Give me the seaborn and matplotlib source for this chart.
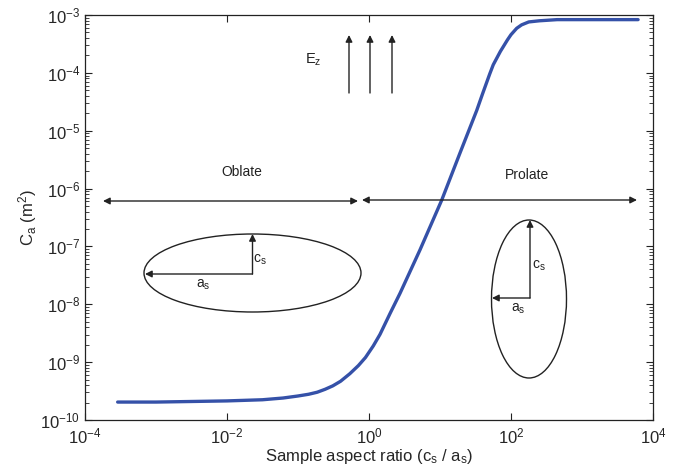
import numpy as np
import pandas as pd
import matplotlib
matplotlib.use("Agg")
import matplotlib.pyplot as plt
from matplotlib.patches import Ellipse
from matplotlib.ticker import FixedLocator, NullLocator
import seaborn as sns

# ---- data (as base-10 exponents) ----
log_aspect = [-3.54, -3.0, -2.5, -2.0, -1.5, -1.21, -1.0, -0.85, -0.73, -0.62,
              -0.51, -0.4, -0.27, -0.15, -0.05, 0.06, 0.155, 0.3, 0.437, 0.718,
              1.024, 1.28, 1.517, 1.6, 1.70, 1.75, 1.85, 1.95, 2.0, 2.08,
              2.15, 2.25, 2.4, 2.65, 3.0, 3.5, 3.79]
log_ca = [-9.69, -9.69, -9.68, -9.67, -9.65, -9.62, -9.585, -9.555, -9.52, -9.47,
          -9.41, -9.33, -9.20, -9.06, -8.92, -8.72, -8.52, -8.15, -7.81, -7.06,
          -6.20, -5.39, -4.65, -4.36, -4.02, -3.86, -3.63, -3.43, -3.34, -3.23,
          -3.17, -3.12, -3.10, -3.08, -3.08, -3.08, -3.08]
x_ticks = [1e-4, 1e-2, 1e0, 1e2, 1e4]
y_ticks = [1e-10, 1e-9, 1e-8, 1e-7, 1e-6, 1e-5, 1e-4, 1e-3]
x_label = r"Sample aspect ratio (c$_\mathrm{s}$ / a$_\mathrm{s}$)"
y_label = r"C$_\mathrm{a}$ (m$^2$)"
region_labels = ["Oblate", "Prolate"]
field_label = r"E$_\mathrm{z}$"

df = pd.DataFrame({"aspect": 10.0 ** np.array(log_aspect),
                   "ca": 10.0 ** np.array(log_ca)})

sns.set_style("ticks")
plt.rcParams["font.family"] = ["Liberation Sans", "DejaVu Sans"]
plt.rcParams["mathtext.fontset"] = "custom"
plt.rcParams["mathtext.rm"] = "Liberation Sans"
plt.rcParams["mathtext.it"] = "Liberation Sans:italic"
plt.rcParams["mathtext.bf"] = "Liberation Sans:bold"

fig = plt.figure(figsize=(6.84, 4.71), dpi=100)
ax = fig.add_axes([85 / 684, 51 / 471, 568 / 684, 405 / 471])

sns.lineplot(data=df, x="aspect", y="ca", ax=ax, color="#3551a8",
             linewidth=2.4, estimator=None, sort=False)

ax.set_xscale("log")
ax.set_yscale("log")
ax.set_xlim(1e-4, 1e4)
ax.set_ylim(1e-10, 1e-3)
ax.xaxis.set_major_locator(FixedLocator(x_ticks))
ax.xaxis.set_minor_locator(NullLocator())
ax.yaxis.set_major_locator(FixedLocator(y_ticks))
minor_y = [m * t for t in y_ticks[:-1] for m in range(2, 10)]
ax.yaxis.set_minor_locator(FixedLocator(minor_y))

ax.set_xlabel(x_label, fontsize=12, labelpad=0)
ax.set_ylabel(y_label, fontsize=12, labelpad=1)
ax.tick_params(which="both", direction="in", top=True, right=True,
               labelsize=12, color="#222222")
ax.tick_params(axis="x", which="major", pad=5)
ax.tick_params(which="major", length=5, width=0.8)
ax.tick_params(which="minor", length=3, width=0.6)
for s in ax.spines.values():
    s.set_linewidth(0.9)
    s.set_color("#222222")

T = ax.transAxes
def fx(px):
    return (px - 85) / 568
def fy(py):
    return (420 - py) / 405

arrow_kw = dict(arrowstyle="-|>", color="#222222", lw=1.0,
                mutation_scale=10, shrinkA=0, shrinkB=0)
dbl_kw = dict(arrowstyle="<|-|>", color="#222222", lw=1.0,
              mutation_scale=10, shrinkA=0, shrinkB=0)

# Oblate / Prolate ranges
ax.annotate("", xy=(fx(103), fy(201)), xytext=(fx(358), fy(201)),
            xycoords=T, textcoords=T, arrowprops=dbl_kw)
ax.annotate("", xy=(fx(362), fy(200)), xytext=(fx(637), fy(200)),
            xycoords=T, textcoords=T, arrowprops=dbl_kw)
ax.text(fx(242), fy(172), region_labels[0], transform=T, ha="center",
        va="center", fontsize=10, color="#222222")
ax.text(fx(527), fy(175), region_labels[1], transform=T, ha="center",
        va="center", fontsize=10, color="#222222")

# E_z field arrows
for px in (349, 370, 392):
    ax.annotate("", xy=(fx(px), fy(35)), xytext=(fx(px), fy(93)),
                xycoords=T, textcoords=T, arrowprops=arrow_kw)
ax.text(fx(313), fy(60), field_label, transform=T, ha="center",
        va="center", fontsize=10.5, color="#222222")

# Oblate ellipse
cx, cy = 252.5, 273
ax.add_patch(Ellipse((fx(cx), fy(cy)), 217 / 568, 78 / 405, transform=T,
                     fill=False, ec="#222222", lw=1.0))
ax.annotate("", xy=(fx(cx), fy(234)), xytext=(fx(cx), fy(274)),
            xycoords=T, textcoords=T, arrowprops=arrow_kw)
ax.annotate("", xy=(fx(145), fy(274)), xytext=(fx(cx), fy(274)),
            xycoords=T, textcoords=T, arrowprops=arrow_kw)
ax.text(fx(260), fy(260), r"c$_\mathrm{s}$", transform=T, ha="center",
        va="center", fontsize=10, color="#222222")
ax.text(fx(203), fy(285), r"a$_\mathrm{s}$", transform=T, ha="center",
        va="center", fontsize=10, color="#222222")

# Prolate ellipse
px0, py0 = 529, 299
ax.add_patch(Ellipse((fx(px0), fy(py0)), 75 / 568, 158 / 405, transform=T,
                     fill=False, ec="#222222", lw=1.0))
ax.annotate("", xy=(fx(530), fy(220)), xytext=(fx(530), fy(298)),
            xycoords=T, textcoords=T, arrowprops=arrow_kw)
ax.annotate("", xy=(fx(492), fy(298)), xytext=(fx(530), fy(298)),
            xycoords=T, textcoords=T, arrowprops=arrow_kw)
ax.text(fx(539), fy(266), r"c$_\mathrm{s}$", transform=T, ha="center",
        va="center", fontsize=10, color="#222222")
ax.text(fx(518), fy(309), r"a$_\mathrm{s}$", transform=T, ha="center",
        va="center", fontsize=10, color="#222222")

fig.savefig("out.png", dpi=100)
